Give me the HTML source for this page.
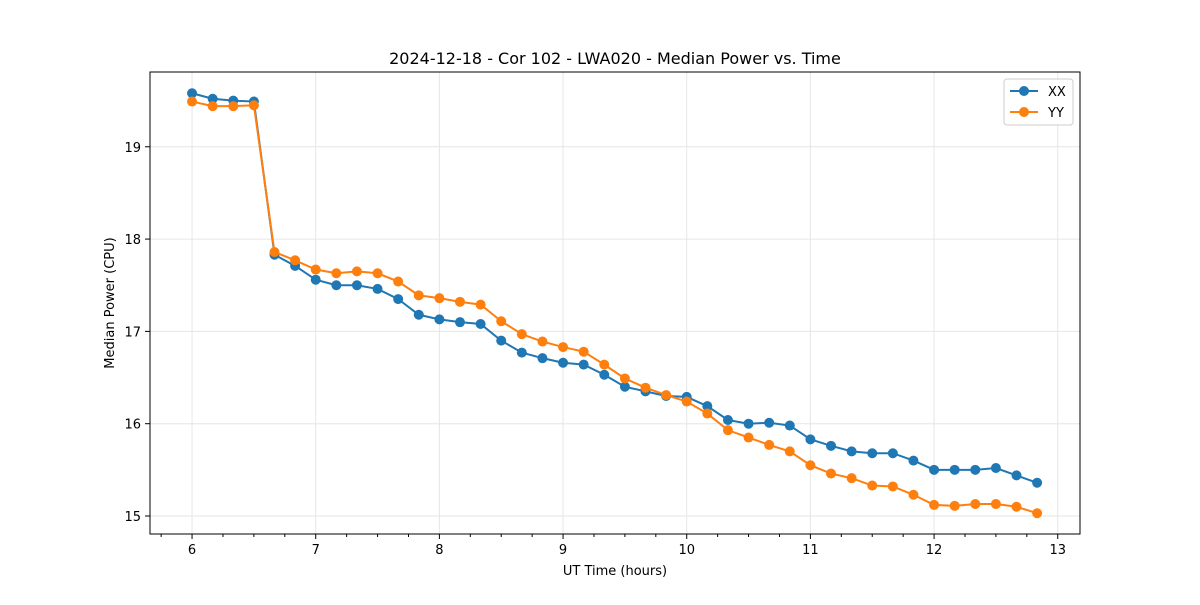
<!DOCTYPE html>
<html><head><meta charset="utf-8"><style>
body{margin:0;background:#fff;font-family:"Liberation Sans","DejaVu Sans",sans-serif}
</style></head><body>
<svg id="chart" width="1200" height="600" xmlns="http://www.w3.org/2000/svg" font-family="DejaVu Sans, Liberation Sans, sans-serif">
<rect width="1200" height="600" fill="#fff"/>
<g id="grid"></g><g id="axes"></g><g id="series"></g>
<text x="615" y="64" text-anchor="middle" font-size="16">2024-12-18 - Cor 102 - LWA020 - Median Power vs. Time</text>
<text x="615" y="575" text-anchor="middle" font-size="13">UT Time (hours)</text>
<text transform="translate(114,303) rotate(-90)" text-anchor="middle" font-size="13">Median Power (CPU)</text>
<g>
<rect x="1004" y="79" width="69" height="46" fill="#fff" stroke="#ccc" rx="3"/>
<line x1="1010" y1="91" x2="1038" y2="91" stroke="#1f77b4" stroke-width="2"/><circle cx="1024" cy="91" r="5" fill="#1f77b4"/>
<text x="1048" y="96" font-size="13">XX</text>
<line x1="1010" y1="112" x2="1038" y2="112" stroke="#ff7f0e" stroke-width="2"/><circle cx="1024" cy="112" r="5" fill="#ff7f0e"/>
<text x="1048" y="117" font-size="13">YY</text>
</g>
</svg>
<script>
const times=[];for(let i=0;i<42;i++)times.push(6+i/6);
const xxValues=[19.58,19.52,19.50,19.49,17.83,17.71,17.56,17.50,17.50,17.46,17.35,17.18,17.13,17.10,17.08,16.90,16.77,16.71,16.66,16.64,16.53,16.40,16.35,16.30,16.29,16.19,16.04,16.00,16.01,15.98,15.83,15.76,15.70,15.68,15.68,15.60,15.50,15.50,15.50,15.52,15.44,15.36];
const yyValues=[19.49,19.44,19.44,19.45,17.86,17.77,17.67,17.63,17.65,17.63,17.54,17.39,17.36,17.32,17.29,17.11,16.97,16.89,16.83,16.78,16.64,16.49,16.39,16.31,16.24,16.11,15.93,15.85,15.77,15.70,15.55,15.46,15.41,15.33,15.32,15.23,15.12,15.11,15.13,15.13,15.10,15.03];
const xTicks=[6,7,8,9,10,11,12,13];
const yTicks=[15,16,17,18,19];
const L=150,R=1080,T=72,B=534,xMin=5.66,xMax=13.18,yMin=14.805,yMax=19.81;
const sx=v=>L+(v-xMin)/(xMax-xMin)*(R-L);
const sy=v=>B-(v-yMin)/(yMax-yMin)*(B-T);
const NS="http://www.w3.org/2000/svg";
function mk(p,t,a){const e=document.createElementNS(NS,t);for(const k in a)e.setAttribute(k,a[k]);p.appendChild(e);return e;}
const grid=document.getElementById('grid'),axes=document.getElementById('axes'),ser=document.getElementById('series');
xTicks.forEach(t=>{const x=sx(t);
 const g=mk(grid,'line',{x1:x,x2:x,y1:T,y2:B,stroke:'#e6e6e6'});
 
 
 mk(axes,'line',{x1:x,x2:x,y1:B,y2:B+5,stroke:'#000'});
 const tx=mk(axes,'text',{x:x,y:B+20,'text-anchor':'middle','font-size':13});tx.textContent=t;
 
 
});
for(let m=5.75;m<=13.1;m+=0.25){if(Math.abs(m-Math.round(m))<0.01)continue;const x=sx(m);mk(axes,'line',{x1:x,x2:x,y1:B,y2:B+3,stroke:'#000'});}
yTicks.forEach(t=>{const y=sy(t);
 const g=mk(grid,'line',{x1:L,x2:R,y1:y,y2:y,stroke:'#e6e6e6'});
 
 
 mk(axes,'line',{x1:L-5,x2:L,y1:y,y2:y,stroke:'#000'});
 const tx=mk(axes,'text',{x:L-9,y:y+5,'text-anchor':'end','font-size':13});tx.textContent=t;
 
 
});
const fr=mk(axes,'rect',{x:L,y:T,width:R-L,height:B-T,fill:'none',stroke:'#000','stroke-width':1});


function draw(vals,color,name){
 const pts=vals.map((v,i)=>sx(times[i])+','+sy(v)).join(' ');
 const pl=mk(ser,'polyline',{points:pts,fill:'none',stroke:color,'stroke-width':2});
 
 
 vals.forEach((v,i)=>{const c=mk(ser,'circle',{cx:sx(times[i]),cy:sy(v),r:5,fill:color});
  
  });
}
draw(xxValues,'#1f77b4','xx');
draw(yyValues,'#ff7f0e','yy');
</script>
</body></html>
